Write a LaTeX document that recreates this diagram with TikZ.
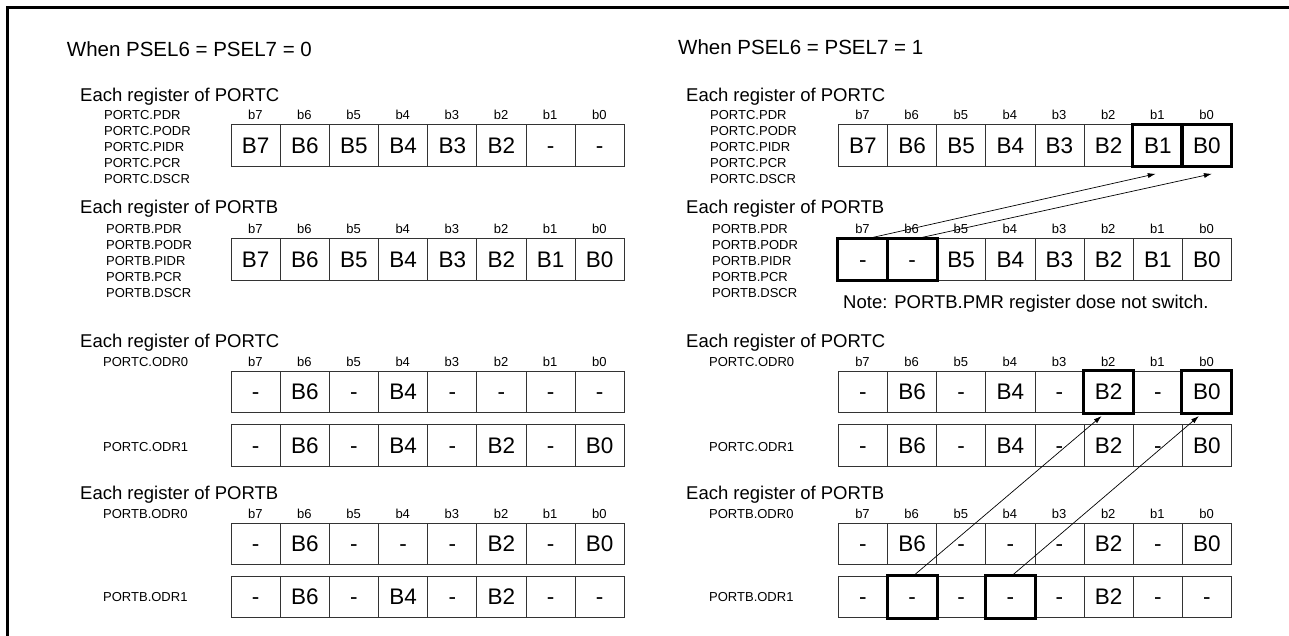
\documentclass[tikz,border=0pt]{standalone}
\usepackage{fontspec}
\setmainfont{Liberation Sans}
\usetikzlibrary{arrows.meta}

% one register row: name, left x, top y, cell texts b7..b0
\newcommand{\regrow}[4]{%
  \foreach \txt [count=\i from 0] in {#4} {
    \pgfmathtruncatemacro{\bit}{7-\i}
    \node[regcell, anchor=north west] (#1-\bit) at ({#2+\i*49.15},#3) {\txt};
  }
}
% bit numbers above a row: name, left x, baseline y
\newcommand{\bitrow}[3]{%
  \foreach \b in {7,...,0} {
    \node[bitlbl] (#1-b\b) at ({#2+(7-\b)*49.15+24.575},#3) {b\b};
  }
}

\begin{document}
\begin{tikzpicture}[x=1pt, y=-1pt,
  every node/.style={inner sep=0pt},
  sectitle/.style={font=\fontsize{20.5}{24}\selectfont, anchor=base west},
  grouphead/.style={font=\fontsize{18.5}{22}\selectfont, anchor=base west},
  reglbl/.style={font=\fontsize{13}{16}\selectfont, anchor=base west},
  bitlbl/.style={font=\fontsize{13}{16}\selectfont, anchor=base},
  regcell/.style={draw=black!80, line width=0.8pt, minimum width=49.15pt,
    minimum height=41.5pt, font=\fontsize{22.5}{26}\selectfont,
    text height=16pt, text depth=0pt},
  hlbox/.style={draw=black, line width=3pt},
  arr/.style={-{Latex[length=8pt, width=5pt]}, line width=0.7pt}
]
  \useasboundingbox (0,0) rectangle (1289,636);
  % frame
  \draw[line width=3pt] (7.5,636) -- (7.5,7.5) -- (1289,7.5);

  % ---------- left: PSEL6 = PSEL7 = 0
  \node[sectitle] (ltitle) at (66.7,57) {When PSEL6 = PSEL7 = 0};

  \node[grouphead] (lhc1) at (80,101.7) {Each register of PORTC};
  \foreach \r [count=\k from 0] in {PDR,PODR,PIDR,PCR,DSCR}
    \node[reglbl] (lc1-n\k) at (104,{120+\k*16}) {PORTC.\r};
  \bitrow{lc1}{230.7}{120}
  \regrow{lc1}{230.7}{124.5}{B7,B6,B5,B4,B3,B2,-,-}

  \node[grouphead] (lhb1) at (80,214) {Each register of PORTB};
  \foreach \r [count=\k from 0] in {PDR,PODR,PIDR,PCR,DSCR}
    \node[reglbl] (lb1-n\k) at (106,{233.3+\k*16}) {PORTB.\r};
  \bitrow{lb1}{230.7}{233.3}
  \regrow{lb1}{230.7}{238.3}{B7,B6,B5,B4,B3,B2,B1,B0}

  \node[grouphead] (lhc2) at (80,347.7) {Each register of PORTC};
  \node[reglbl] (lco0-n) at (103,366) {PORTC.ODR0};
  \node[reglbl] (lco1-n) at (103,451.7) {PORTC.ODR1};
  \bitrow{lco0}{230.7}{366}
  \regrow{lco0}{230.7}{370.7}{-,B6,-,B4,-,-,-,-}
  \regrow{lco1}{230.7}{424.3}{-,B6,-,B4,-,B2,-,B0}

  \node[grouphead] (lhb2) at (80,499) {Each register of PORTB};
  \node[reglbl] (lbo0-n) at (103,518) {PORTB.ODR0};
  \node[reglbl] (lbo1-n) at (103,601.7) {PORTB.ODR1};
  \bitrow{lbo0}{230.7}{518}
  \regrow{lbo0}{230.7}{522.7}{-,B6,-,-,-,B2,-,B0}
  \regrow{lbo1}{230.7}{575.7}{-,B6,-,B4,-,B2,-,-}

  % ---------- right: PSEL6 = PSEL7 = 1
  \node[sectitle] (rtitle) at (678,55) {When PSEL6 = PSEL7 = 1};

  \node[grouphead] (rhc1) at (686,101.7) {Each register of PORTC};
  \foreach \r [count=\k from 0] in {PDR,PODR,PIDR,PCR,DSCR}
    \node[reglbl] (rc1-n\k) at (710,{120+\k*16}) {PORTC.\r};
  \bitrow{rc1}{837.9}{120}
  \regrow{rc1}{837.9}{124.5}{B7,B6,B5,B4,B3,B2,B1,B0}

  \node[grouphead] (rhb1) at (686,214) {Each register of PORTB};
  \foreach \r [count=\k from 0] in {PDR,PODR,PIDR,PCR,DSCR}
    \node[reglbl] (rb1-n\k) at (712,{233.3+\k*16}) {PORTB.\r};
  \bitrow{rb1}{837.9}{233.3}
  \regrow{rb1}{837.9}{238.3}{-,-,B5,B4,B3,B2,B1,B0}
  \node[grouphead] (note) at (843,308) {Note: PORTB.PMR register dose not switch.};

  \node[grouphead] (rhc2) at (686,347.7) {Each register of PORTC};
  \node[reglbl] (rco0-n) at (709,366) {PORTC.ODR0};
  \node[reglbl] (rco1-n) at (709,451.7) {PORTC.ODR1};
  \bitrow{rco0}{837.9}{366}
  \regrow{rco0}{837.9}{370.7}{-,B6,-,B4,-,B2,-,B0}
  \regrow{rco1}{837.9}{424.3}{-,B6,-,B4,-,B2,-,B0}

  \node[grouphead] (rhb2) at (686,499) {Each register of PORTB};
  \node[reglbl] (rbo0-n) at (709,518) {PORTB.ODR0};
  \node[reglbl] (rbo1-n) at (709,601.7) {PORTB.ODR1};
  \bitrow{rbo0}{837.9}{518}
  \regrow{rbo0}{837.9}{522.7}{-,B6,-,-,-,B2,-,B0}
  \regrow{rbo1}{837.9}{575.7}{-,-,-,-,-,B2,-,-}

  % switched bits
  \foreach \n in {rc1-1,rc1-0,rb1-7,rb1-6,rco0-2,rco0-0,rbo1-6,rbo1-4}
    \draw[hlbox] (\n.north west) rectangle (\n.south east);

  % Arrows
  \draw[arr] ([xshift=6pt]rb1-7.north) -- ([xshift=-2pt,yshift=-7pt]rc1-1.south);
  \draw[arr] ([xshift=6pt]rb1-6.north) -- ([xshift=5pt,yshift=-7pt]rc1-0.south);
  \draw[arr] ([xshift=1.5pt]rbo1-6.north) -- ([xshift=-7pt,yshift=-3pt]rco0-2.south);
  \draw[arr] ([xshift=1.5pt]rbo1-4.north) -- ([xshift=-8pt,yshift=-3pt]rco0-0.south);
\end{tikzpicture}
\end{document}
